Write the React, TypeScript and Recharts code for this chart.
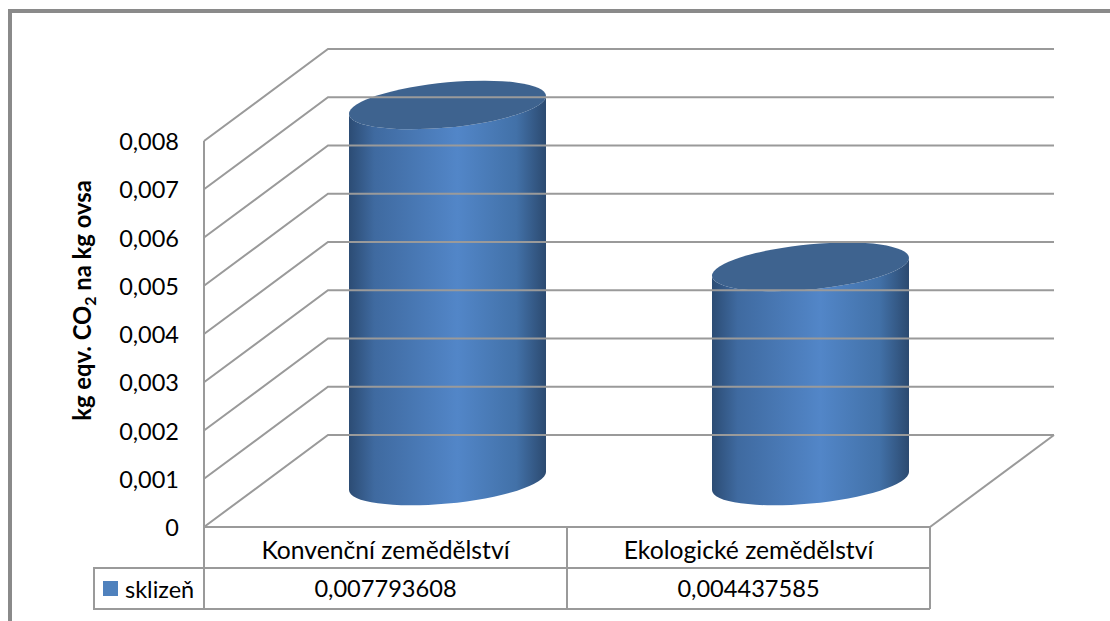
import { Bar, BarChart, Label, Legend, XAxis, YAxis } from 'recharts';

const categories = ['Konvenční zemědělství', 'Ekologické zemědělství'];
const harvest = [0.007793608, 0.004437585];
const yTicks = [0, 0.001, 0.002, 0.003, 0.004, 0.005, 0.006, 0.007, 0.008];
const seriesName = 'sklizeň';

const chartData = categories.map((name, i) => ({ name, harvest: harvest[i] }));

const FONT = 'Lato, sans-serif';
const LINE = '#9a9a9a';
// oblique offset from the front plane to the back wall
const DEPTH_X = 124;
const DEPTH_Y = 92;
const PLOT_LEFT = 204;
const PLOT_RIGHT = 930;
const ROW_1 = 568;
const ROW_2 = 609;
const LEGEND_LEFT = 94;

const comma = (v: number, digits: number) => (v === 0 ? '0' : v.toFixed(digits).replace('.', ','));

// wall lines run from the y axis tick, back along the side wall, then across the back wall
function WallTick({ y, payload }: any) {
  const backY = y - DEPTH_Y;
  const backLeft = PLOT_LEFT + DEPTH_X;
  const backRight = PLOT_RIGHT + DEPTH_X;
  return (
    <g>
      <polyline
        points={`${PLOT_LEFT},${y} ${backLeft},${backY} ${backRight},${backY}`}
        fill="none"
        stroke={LINE}
        strokeWidth={2}
      />
      {payload.value === 0 && (
        <line x1={PLOT_RIGHT} y1={y} x2={backRight} y2={backY} stroke={LINE} strokeWidth={2} />
      )}
      <text x={179} y={y + 9} textAnchor="end" fontFamily={FONT} fontSize={23.5} fill="#000">
        {comma(payload.value, 3)}
      </text>
    </g>
  );
}

// data table under the plot: one column per category
function TableTick({ x, y, index, payload }: any) {
  const half = (PLOT_RIGHT - PLOT_LEFT) / categories.length / 2;
  return (
    <g>
      {index === 0 && (
        <>
          <line x1={x - half} y1={y} x2={x - half} y2={ROW_2} stroke={LINE} strokeWidth={2} />
          <rect x={LEGEND_LEFT} y={ROW_1} width={PLOT_LEFT - LEGEND_LEFT} height={ROW_2 - ROW_1} fill="none" stroke={LINE} strokeWidth={2} />
        </>
      )}
      <line x1={x + half} y1={y} x2={x + half} y2={ROW_2} stroke={LINE} strokeWidth={2} />
      <line x1={x - half} y1={ROW_1} x2={x + half} y2={ROW_1} stroke={LINE} strokeWidth={2} />
      <line x1={x - half} y1={ROW_2} x2={x + half} y2={ROW_2} stroke={LINE} strokeWidth={2} />
      <text x={x} y={ROW_1 - 9} textAnchor="middle" fontFamily={FONT} fontSize={24.7} fill="#000">
        {payload.value}
      </text>
      <text x={x} y={ROW_2 - 12} textAnchor="middle" fontFamily={FONT} fontSize={23.6} fill="#000">
        {comma(harvest[index], 9)}
      </text>
    </g>
  );
}

// cylinder standing in the middle of the floor, skewed so both caps tilt the same way
function Cylinder({ x, y, width, height }: any) {
  const r = width / 2;
  const capRy = 22.6;
  const cx = x + r + DEPTH_X / 2;
  const baseY = y + height - DEPTH_Y / 2;
  const body = `M${-r},${-height} L${-r},0 A${r},${capRy} 0 0 0 ${r},0 L${r},${-height} A${r},${capRy} 0 0 1 ${-r},${-height} Z`;
  return (
    <g transform={`translate(${cx},${baseY}) skewY(-5.2)`}>
      <path d={body} fill="url(#cylinderSide)" />
      <ellipse cx={0} cy={-height} rx={r} ry={capRy} fill="#3e638f" />
    </g>
  );
}

function AxisTitle({ viewBox }: any) {
  const cy = viewBox.y + viewBox.height / 2 - 33.5;
  return (
    <text transform={`translate(91,${cy}) rotate(-90)`} textAnchor="middle" fontFamily={FONT} fontWeight={700} fontSize={23.8} fill="#000">
      kg eqv. CO<tspan dy={5} fontSize={16}>2</tspan>
      <tspan dy={-5}> na kg ovsa</tspan>
    </text>
  );
}

function TableLegend() {
  return (
    <div style={{ display: 'flex', alignItems: 'center', height: 41, fontFamily: FONT, fontSize: 23.5, color: '#000' }}>
      <span style={{ width: 15, height: 15, background: '#4f81bd', marginLeft: 9, marginRight: 7 }} />
      {seriesName}
    </div>
  );
}

export default function App() {
  return (
    <div style={{ position: 'absolute', left: 0, top: 0, width: 1110, height: 621, overflow: 'hidden', background: '#fff' }}>
      <div style={{ position: 'absolute', left: 8, top: 9, width: 1200, height: 700, border: '4px solid #8a8a8a' }} />
      <div style={{ position: 'absolute', left: 0, top: 0 }}>
        <BarChart
          width={1110}
          height={621}
          data={chartData}
          margin={{ top: 141, right: 180, bottom: 0, left: 0 }}
        >
          <defs>
            <linearGradient id="cylinderSide" x1="0" y1="0" x2="1" y2="0">
              <stop offset="0" stopColor="#2c4c74" />
              <stop offset="0.13" stopColor="#3f6aa0" />
              <stop offset="0.55" stopColor="#5286c8" />
              <stop offset="0.85" stopColor="#4271a8" />
              <stop offset="1" stopColor="#2c4a70" />
            </linearGradient>
          </defs>
          <YAxis
            type="number"
            width={204}
            domain={[0, 0.008]}
            ticks={yTicks}
            interval={0}
            tick={<WallTick />}
            tickLine={false}
            axisLine={{ stroke: LINE, strokeWidth: 2 }}
          >
            <Label content={<AxisTitle />} />
          </YAxis>
          <XAxis
            dataKey="name"
            height={94}
            interval={0}
            tick={<TableTick />}
            tickLine={false}
            tickSize={0}
            tickMargin={0}
            axisLine={{ stroke: LINE, strokeWidth: 2 }}
          />
          <Legend
            layout="vertical"
            align="center"
            verticalAlign="middle"
            content={<TableLegend />}
            wrapperStyle={{ left: LEGEND_LEFT, top: ROW_1, width: PLOT_LEFT - LEGEND_LEFT, height: ROW_2 - ROW_1 }}
          />
          <Bar
            dataKey="harvest"
            name={seriesName}
            barSize={197}
            fill="#4f81bd"
            shape={<Cylinder />}
            isAnimationActive={false}
          />
        </BarChart>
      </div>
    </div>
  );
}
